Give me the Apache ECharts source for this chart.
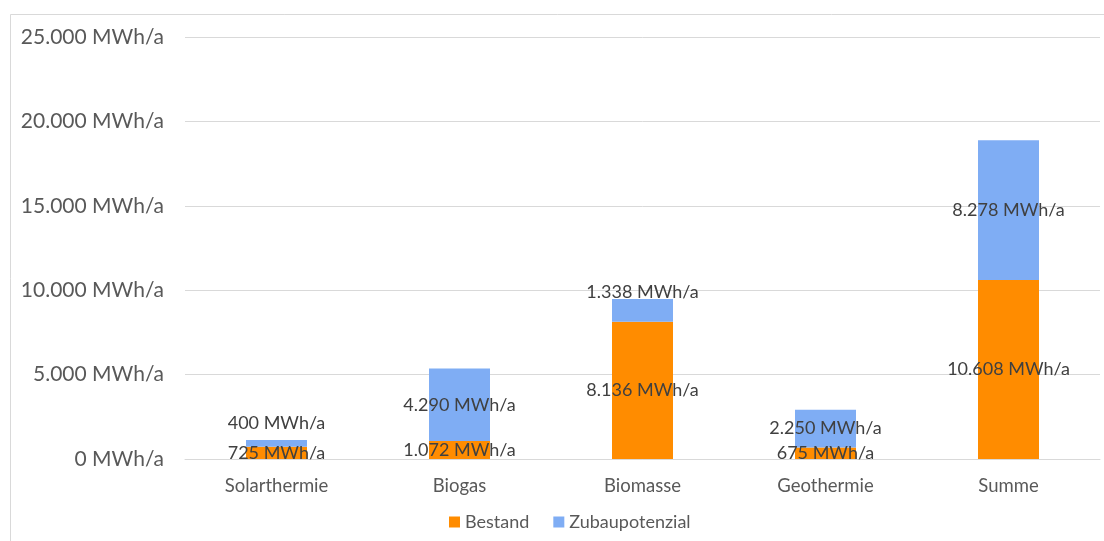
<!DOCTYPE html>
<html>
<head>
<meta charset="utf-8">
<script src="https://cdn.jsdelivr.net/npm/echarts@6/dist/echarts.min.js"></script>
<style>
  html, body { margin: 0; padding: 0; background: #fff; }
  #chart { width: 1104px; height: 541px; }
</style>
</head>
<body>
<div id="chart"></div>
<script>
// Wärmepotenziale je Energieträger (MWh/a)
const categories = ['Solarthermie', 'Biogas', 'Biomasse', 'Geothermie', 'Summe'];
const bestand = [725, 1072, 8136, 675, 10608];
const zubaupotenzial = [400, 4290, 1338, 2250, 8278];
const yTicks = [0, 5000, 10000, 15000, 20000, 25000];

const FONT = 'Lato, "Noto Sans", sans-serif';

function fmt(v) {
  return String(Math.round(v)).replace(/\B(?=(\d{3})+(?!\d))/g, '.') + ' MWh/a';
}

// labels that would collide with a thin segment are lifted above it
const liftedLabel = { 0: -20, 2: -18 };

const chart = echarts.init(document.getElementById('chart'));
chart.setOption({
  animation: false,
  backgroundColor: '#fff',
  textStyle: { fontFamily: FONT },
  graphic: [{
    type: 'rect',
    shape: { x: 10.5, y: 14.5, width: 1200, height: 600 },
    style: { fill: 'none', stroke: '#d9d9d9', lineWidth: 1 },
    silent: true
  }],
  grid: { left: 185, right: 4, top: 37, bottom: 82, containLabel: false },
  legend: {
    bottom: 5,
    left: 444,
    itemWidth: 11,
    itemHeight: 11,
    itemGap: 24,
    icon: 'rect',
    textStyle: { color: '#595959', fontSize: 18, fontFamily: FONT },
    data: ['Bestand', 'Zubaupotenzial']
  },
  xAxis: {
    type: 'category',
    data: categories,
    axisTick: { show: false },
    axisLine: { lineStyle: { color: '#d9d9d9' } },
    axisLabel: { color: '#595959', fontSize: 18.5, margin: 18, fontFamily: FONT }
  },
  yAxis: {
    type: 'value',
    min: yTicks[0],
    max: yTicks[yTicks.length - 1],
    interval: yTicks[1] - yTicks[0],
    axisLine: { show: false },
    axisTick: { show: false },
    splitLine: { lineStyle: { color: '#d9d9d9' } },
    axisLabel: { color: '#595959', fontSize: 21, margin: 21, fontFamily: FONT, formatter: fmt }
  },
  series: [
    {
      name: 'Bestand',
      type: 'bar',
      stack: 'total',
      barWidth: 61,
      itemStyle: { color: '#ff8c00' },
      label: {
        show: true, position: 'inside', color: '#404040', fontSize: 18, fontFamily: FONT,
        formatter: p => fmt(p.value)
      },
      data: bestand
    },
    {
      name: 'Zubaupotenzial',
      type: 'bar',
      stack: 'total',
      barWidth: 61,
      itemStyle: { color: '#7fadf4' },
      label: {
        show: true, position: 'inside', color: '#404040', fontSize: 18, fontFamily: FONT,
        formatter: p => fmt(p.value)
      },
      data: zubaupotenzial.map((v, i) => liftedLabel[i] !== undefined
        ? { value: v, label: { offset: [0, liftedLabel[i]] } }
        : v)
    }
  ]
});
</script>
</body>
</html>
